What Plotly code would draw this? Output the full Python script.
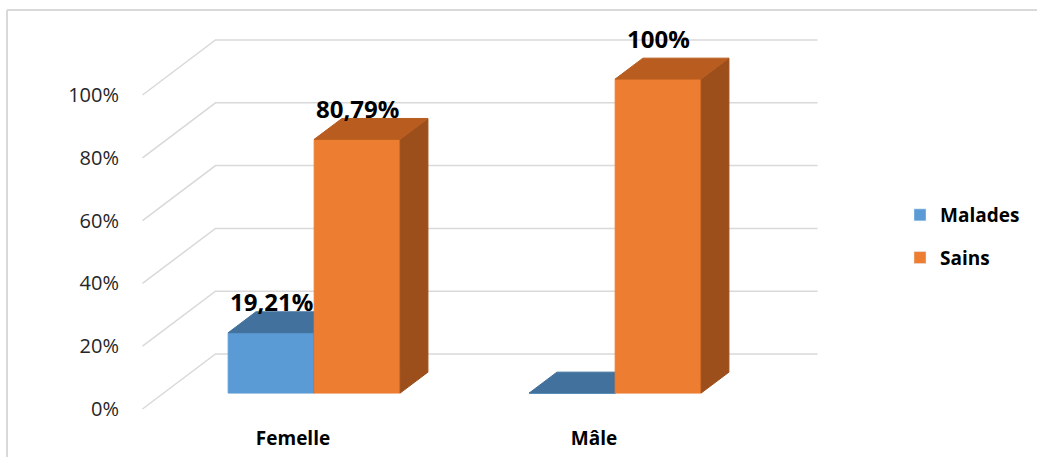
import plotly.graph_objects as go

# ---------------- data ----------------
categories = ["Femelle", "Mâle"]
series_names = ["Malades", "Sains"]
malades = [19.21, 0.0]
sains = [80.79, 100.0]
labels_malades = ["19,21%", ""]
labels_sains = ["80,79%", "100%"]
y_tick_values = [0, 20, 40, 60, 80, 100]
y_tick_labels = ["0%", "20%", "40%", "60%", "80%", "100%"]

# ---------------- geometry / style ----------------
W, H = 1037, 457
L, R, T, B = 124, 830, 20, 425          # plot area in pixels
X0_PX, CAT_PX = 293, 301                 # category 0 (front plane) and spacing
Y0_PX, PCT_PX = 409, 3.14                # 0% on front plane, pixels per percent
DX = 73 / CAT_PX                         # oblique depth offset (x, category units)
DY = 55 / PCT_PX                         # oblique depth offset (y, percent units)
D0, D1 = 0.29, 0.67                      # bar depth span (fraction of floor depth)
BW = 86 / CAT_PX                         # bar width
LABEL_GAP_PX = 31
LABEL_EXTRA_PX = {("Sains", 1): 10}      # label nudge for the tallest bar

front_col = {"Malades": "#5B9BD5", "Sains": "#ED7D31"}
top_col = {"Malades": "#41719C", "Sains": "#B85D1F"}
side_col = {"Malades": "#3A6690", "Sains": "#9C4E1B"}
grid_col = "#D9D9D9"
FONT = "Open Sans"

x_range = [(L - X0_PX) / CAT_PX, (R - X0_PX) / CAT_PX]
y_range = [(Y0_PX - B) / PCT_PX, (Y0_PX - T) / PCT_PX]

fig = go.Figure()

# ---------------- walls / gridlines ----------------
n = len(categories)
fx0, fx1 = -0.5, n - 0.5
gx, gy = [], []
for v in y_tick_values:
    gx += [fx0, fx0 + DX, fx1 + DX, None]
    gy += [v, v + DY, v + DY, None]
fig.add_trace(go.Scatter(x=gx, y=gy, mode="lines", line=dict(color=grid_col, width=1.5),
                         hoverinfo="skip", showlegend=False))


def poly(xs, ys, color):
    fig.add_trace(go.Scatter(x=xs + [xs[0]], y=ys + [ys[0]], mode="lines", fill="toself",
                             fillcolor=color, line=dict(color=color, width=1),
                             hoverinfo="skip", showlegend=False))


annotations = []
series = {"Malades": (malades, labels_malades, -1), "Sains": (sains, labels_sains, 0)}
ddx, ddy = (D1 - D0) * DX, (D1 - D0) * DY
for i in range(n):
    for name in series_names:
        vals, labs, k = series[name]
        v = vals[i]
        xl = i + D0 * DX + k * BW
        xr = xl + BW
        yb = D0 * DY
        yt = v + D0 * DY
        # front face
        poly([xl, xr, xr, xl], [yb, yb, yt, yt], front_col[name])
        # side face
        poly([xr, xr + ddx, xr + ddx, xr], [yb, yb + ddy, yt + ddy, yt], side_col[name])
        # top face
        poly([xl, xr, xr + ddx, xl + ddx], [yt, yt, yt + ddy, yt + ddy], top_col[name])
        if labs[i]:
            gap = (LABEL_GAP_PX + LABEL_EXTRA_PX.get((name, i), 0)) / PCT_PX
            annotations.append(dict(x=(xl + xr) / 2, y=yt + gap, xref="x", yref="y",
                                    text=labs[i], showarrow=False,
                                    font=dict(family=FONT, size=24, color="#000000", weight="bold"),
                                    xanchor="center", yanchor="middle"))

# legend entries
for name in series_names:
    fig.add_trace(go.Bar(x=[None], y=[None], name=name, marker=dict(color=front_col[name]),
                         legendgroup=name, showlegend=True))

# chart border (top and left edges)
def px_x(p):
    return (p - L) / (R - L)


def px_y(p):
    return (B - p) / (B - T)


shapes = [
    dict(type="line", xref="paper", yref="paper", x0=px_x(7), x1=px_x(1037), y0=px_y(10), y1=px_y(10),
         line=dict(color="#D9D9D9", width=2)),
    dict(type="line", xref="paper", yref="paper", x0=px_x(7), x1=px_x(7), y0=px_y(10), y1=px_y(457),
         line=dict(color="#D9D9D9", width=2)),
]

fig.update_layout(
    width=W, height=H,
    margin=dict(l=L, r=W - R, t=T, b=H - B, autoexpand=False),
    paper_bgcolor="white", plot_bgcolor="white",
    barmode="overlay",
    showlegend=True,
    legend=dict(x=px_x(900), y=px_y(196), xanchor="left", yanchor="top",
                font=dict(family=FONT, size=19, color="#000000", weight="bold"),
                tracegroupgap=15, bgcolor="rgba(0,0,0,0)"),
    xaxis=dict(range=x_range, tickvals=list(range(n)), ticktext=categories,
               showgrid=False, zeroline=False, showline=False, ticks="", automargin=False,
               tickfont=dict(family=FONT, size=19, color="#000000", weight="bold"), fixedrange=True),
    yaxis=dict(range=y_range, tickvals=y_tick_values, ticktext=y_tick_labels,
               showgrid=False, zeroline=False, showline=False, ticks="", automargin=False,
               ticklabelstandoff=4,
               tickfont=dict(family=FONT, size=20, color="#262626"), fixedrange=True),
    annotations=annotations,
    shapes=shapes,
)

fig.write_html("out.html")
